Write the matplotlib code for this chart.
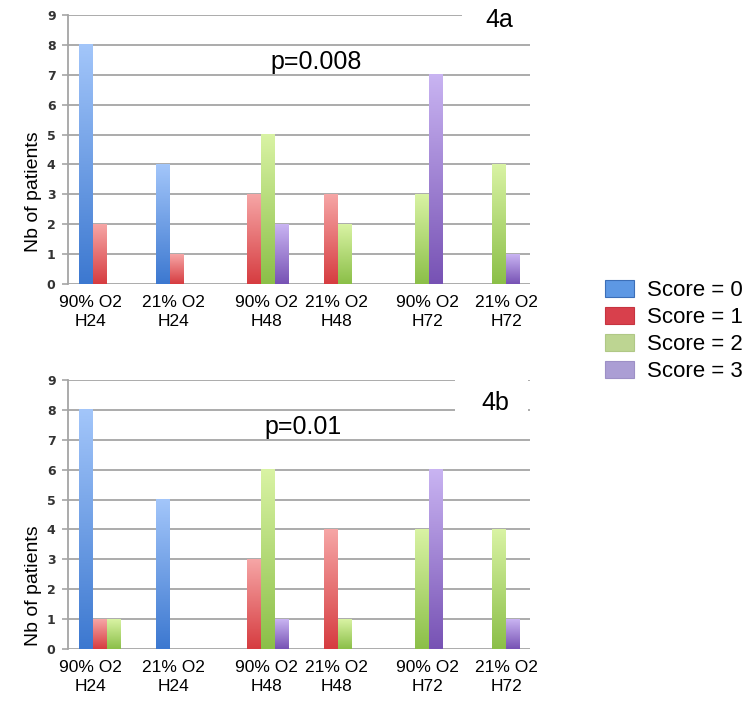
import numpy as np
import matplotlib
matplotlib.use("Agg")
import matplotlib.pyplot as plt
from matplotlib.colors import LinearSegmentedColormap
from matplotlib.patches import Rectangle, Patch
import matplotlib.transforms as mtransforms

categories = ["90% O2\nH24", "21% O2\nH24", "90% O2\nH48", "21% O2\nH48", "90% O2\nH72", "21% O2\nH72"]
series_names = ["Score = 0", "Score = 1", "Score = 2", "Score = 3"]

# Panel 4a
a_score0 = [8, 4, 0, 0, 0, 0]
a_score1 = [2, 1, 3, 3, 0, 0]
a_score2 = [0, 0, 5, 2, 3, 4]
a_score3 = [0, 0, 2, 0, 7, 1]
# Panel 4b
b_score0 = [8, 5, 0, 0, 0, 0]
b_score1 = [1, 0, 3, 4, 0, 0]
b_score2 = [1, 0, 6, 1, 4, 4]
b_score3 = [0, 0, 1, 0, 6, 1]

yticks = list(range(0, 10))

top_colors = ["#a3c6fa", "#f6a6a6", "#d9f3a4", "#c9b4f2"]
bot_colors = ["#3c78d0", "#d63c40", "#8bbf48", "#7752b4"]
legend_colors = ["#5d98e4", "#d8404c", "#bdd592", "#ab9ed4"]
legend_edges = ["#3c6fb8", "#c63440", "#b0c886", "#9d90c6"]

plt.rcParams['font.family'] = ['Liberation Sans', 'DejaVu Sans']

fig = plt.figure(figsize=(7.52, 7.08), dpi=100)

ax_w = 462 / 752
ax_h = 269 / 708
ax_a = fig.add_axes([68 / 752, (708 - 284) / 708, ax_w, ax_h])
ax_b = fig.add_axes([68 / 752, (708 - 649) / 708, ax_w, ax_h])

label_offsets_px = [-16, -10, 6, -1, 13, 15]


def draw_panel(ax, data, ptext, pxy, lbl, lxy, box, ylab_y):
    n = len(categories)
    x = np.arange(n)
    width = 14 / 77
    ax.set_xlim(-0.5, n - 0.5)
    ax.set_ylim(0, 9)
    for i, vals in enumerate(data):
        offs = (i - 1.5) * width
        bars = ax.bar(x + offs, vals, width, color="none", edgecolor="none", zorder=3)
        cmap = LinearSegmentedColormap.from_list("g%d" % i, [bot_colors[i], top_colors[i]])
        grad = np.linspace(0, 1, 256).reshape(-1, 1)
        for b in bars:
            h = b.get_height()
            if h <= 0:
                continue
            ax.imshow(grad, cmap=cmap, origin="lower", aspect="auto",
                      extent=[b.get_x(), b.get_x() + b.get_width(), 0, h],
                      zorder=3, interpolation="bilinear")
    ax.set_xlim(-0.5, n - 0.5)
    ax.set_ylim(0, 9)
    ax.set_yticks(yticks)
    ax.yaxis.grid(True, color="#a5a5a5", linewidth=1.3, zorder=1)
    ax.set_axisbelow(True)
    for s in ["top", "right", "bottom"]:
        ax.spines[s].set_visible(False)
    ax.spines["left"].set_color("#a5a5a5")
    ax.spines["left"].set_linewidth(1.3)
    ax.tick_params(axis="y", direction="out", length=4, width=1.2, color="#a5a5a5",
                   labelsize=9, labelcolor="#333333", pad=5)
    for t in ax.get_yticklabels():
        t.set_fontweight("bold")
        t.set_family("DejaVu Sans")
    ax.set_xticks(x)
    ax.set_xticklabels(categories, fontsize=12.5, linespacing=1.3)
    ax.tick_params(axis="x", length=0, pad=8)
    for t, off in zip(ax.get_xticklabels(), label_offsets_px):
        t.set_transform(t.get_transform() + mtransforms.ScaledTranslation(off / 100, 0, fig.dpi_scale_trans))
    ax.set_ylabel("Nb of patients", fontsize=14)
    ax.yaxis.set_label_coords(-0.056, ylab_y)
    ax.text(pxy[0], pxy[1], ptext, transform=ax.transAxes, fontsize=18,
            ha="center", va="center", zorder=6)
    ax.add_patch(Rectangle((box[0], box[1]), box[2], box[3], transform=ax.transAxes,
                           facecolor="white", edgecolor="none", zorder=5, clip_on=False))
    ax.text(lxy[0], lxy[1], lbl, transform=ax.transAxes, fontsize=18,
            ha="center", va="center", zorder=6)


draw_panel(ax_a, [a_score0, a_score1, a_score2, a_score3], "p=0.008", (0.537, 0.825),
           "4a", (0.933, 0.981), (0.853, 0.93, 0.25, 0.12), 0.342)
draw_panel(ax_b, [b_score0, b_score1, b_score2, b_score3], "p=0.01", (0.509, 0.825),
           "4b", (0.925, 0.915), (0.838, 0.875, 0.158, 0.15), 0.234)

handles = [Patch(facecolor=legend_colors[i], edgecolor=legend_edges[i], linewidth=0.8)
           for i in range(4)]
fig.legend(handles, series_names, loc="center left", bbox_to_anchor=(596 / 752, 1 - 331 / 708),
           frameon=False, fontsize=16, handlelength=1.3, handleheight=0.8,
           handletextpad=0.6, labelspacing=0.25, borderaxespad=0)

fig.savefig("out.png", dpi=100)
